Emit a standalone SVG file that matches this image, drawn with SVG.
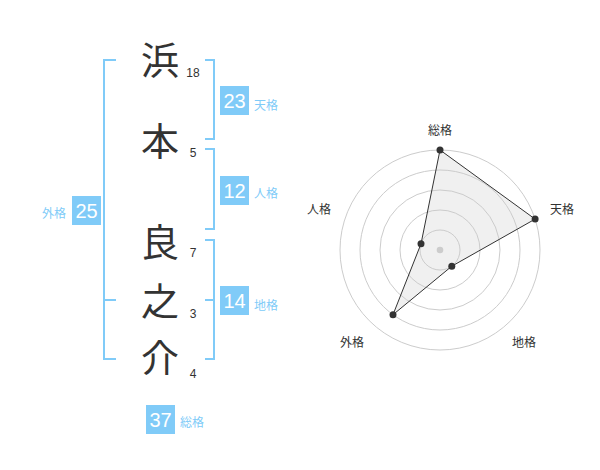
<svg xmlns="http://www.w3.org/2000/svg" width="600" height="470" viewBox="0 0 600 470">
<style>
text{font-family:"Liberation Sans","Noto Sans CJK JP",sans-serif}
.kanji{font-size:38px;fill:#333;text-anchor:middle;font-family:"Noto Sans CJK JP",sans-serif}
.strk{font-size:12px;fill:#333;text-anchor:middle}
.br{fill:none;stroke:#80cbf8;stroke-width:2}
.box{fill:#80cbf8}
.bn{font-size:20px;fill:#fff;text-anchor:middle}
.bl{font-size:12px;fill:#80cbf8}
.ring{fill:none;stroke:#ccc;stroke-width:1}
.rl{font-size:12px;fill:#333;text-anchor:middle}
.dot{fill:#333}
</style>
<rect width="600" height="470" fill="#fff"/>
<g id="name">
<text class="kanji" x="160" y="74">浜</text>
<text class="kanji" x="160" y="155">本</text>
<text class="kanji" x="160" y="256">良</text>
<text class="kanji" x="160" y="315">之</text>
<text class="kanji" x="160" y="372">介</text>
<text class="strk" x="193" y="77">18</text>
<text class="strk" x="193" y="157">5</text>
<text class="strk" x="193" y="257">7</text>
<text class="strk" x="193" y="318">3</text>
<text class="strk" x="193" y="378">4</text>
</g>
<g id="connectors">
<path class="br" d="M116,60 H104 V359 H116 M104,300 H116"/>
<path class="br" d="M205,60 H214 V139 H205"/>
<path class="br" d="M205,149 H214 V229 H205"/>
<path class="br" d="M205,240 H214 V359 H205 M205,300 H214"/>
</g>
<g id="tenkaku">
<rect class="box" x="220" y="86" width="29" height="29"/>
<text class="bn" x="234.5" y="108">23</text>
<text class="bl" x="254" y="109.5">天格</text>
</g>
<g id="jinkaku">
<rect class="box" x="220" y="176" width="29" height="29"/>
<text class="bn" x="234.5" y="198">12</text>
<text class="bl" x="254" y="198">人格</text>
</g>
<g id="chikaku">
<rect class="box" x="220" y="286" width="29" height="29"/>
<text class="bn" x="234.5" y="308">14</text>
<text class="bl" x="254" y="309.5">地格</text>
</g>
<g id="gaikaku">
<rect class="box" x="72" y="196" width="29" height="29"/>
<text class="bn" x="86.5" y="218">25</text>
<text class="bl" x="66" y="217.5" text-anchor="end">外格</text>
</g>
<g id="soukaku">
<rect class="box" x="146" y="405" width="29" height="29"/>
<text class="bn" x="160.5" y="427">37</text>
<text class="bl" x="180" y="427">総格</text>
</g>
<g id="radar">
<polygon points="440,150 535.1,219.1 451.8,266.2 393,314.7 421,243.8" fill="#f0f0f0" stroke="none"/>
<circle class="ring" cx="440" cy="250" r="20"/>
<circle class="ring" cx="440" cy="250" r="40"/>
<circle class="ring" cx="440" cy="250" r="60"/>
<circle class="ring" cx="440" cy="250" r="80"/>
<circle class="ring" cx="440" cy="250" r="100"/>
<circle cx="440" cy="250" r="3.3" fill="#ccc"/>
<polygon points="440,150 535.1,219.1 451.8,266.2 393,314.7 421,243.8" fill="none" stroke="#333" stroke-width="1"/>
<circle class="dot" cx="440" cy="150" r="3.5"/>
<circle class="dot" cx="535.1" cy="219.1" r="3.5"/>
<circle class="dot" cx="451.8" cy="266.2" r="3.5"/>
<circle class="dot" cx="393" cy="314.7" r="3.5"/>
<circle class="dot" cx="421" cy="243.8" r="3.5"/>
<text class="rl" x="440" y="135">総格</text>
<text class="rl" x="562" y="213.5">天格</text>
<text class="rl" x="319" y="213.5">人格</text>
<text class="rl" x="352" y="347">外格</text>
<text class="rl" x="524" y="347">地格</text>
</g>
</svg>
